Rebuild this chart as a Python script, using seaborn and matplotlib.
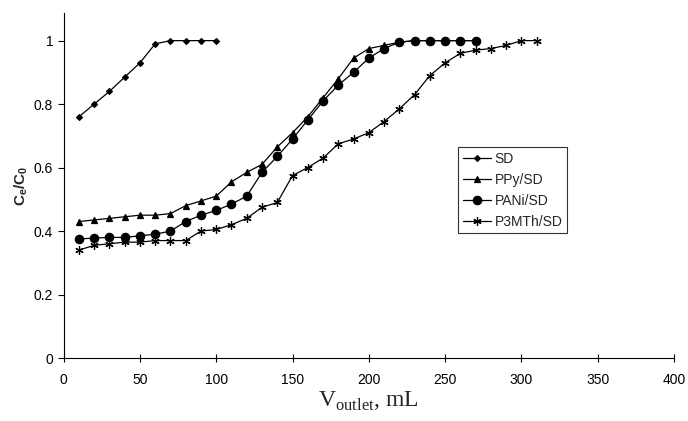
import pandas as pd
import matplotlib.pyplot as plt
import seaborn as sns
import numpy as np

# volumes (mL) and Ce/C0 values
vol_sd = list(range(10, 101, 10))
sd = [0.76, 0.80, 0.84, 0.885, 0.93, 0.99, 1.0, 1.0, 1.0, 1.0]

vol_ppy = list(range(10, 271, 10))
ppy = [0.43, 0.435, 0.44, 0.445, 0.45, 0.45, 0.455, 0.48, 0.495, 0.51,
       0.555, 0.585, 0.61, 0.665, 0.71, 0.76, 0.82, 0.88, 0.945, 0.975,
       0.985, 0.995, 1.0, 1.0, 1.0, 1.0, 1.0]

vol_pani = list(range(10, 271, 10))
pani = [0.375, 0.378, 0.38, 0.38, 0.385, 0.39, 0.40, 0.43, 0.45, 0.465,
        0.485, 0.51, 0.585, 0.635, 0.69, 0.75, 0.81, 0.86, 0.90, 0.945,
        0.975, 0.995, 1.0, 1.0, 1.0, 1.0, 1.0]

vol_p3mth = list(range(10, 311, 10))
p3mth = [0.34, 0.355, 0.36, 0.365, 0.365, 0.37, 0.37, 0.37, 0.40, 0.405,
         0.42, 0.44, 0.475, 0.49, 0.575, 0.60, 0.63, 0.675, 0.69, 0.71,
         0.745, 0.785, 0.83, 0.89, 0.93, 0.96, 0.97, 0.975, 0.985, 1.0, 1.0]

series = [('SD', vol_sd, sd), ('PPy/SD', vol_ppy, ppy),
          ('PANi/SD', vol_pani, pani), ('P3MTh/SD', vol_p3mth, p3mth)]
rows = []
for name, v, c in series:
    for a, b in zip(v, c):
        rows.append((name, a, b))
data = pd.DataFrame(rows, columns=['sample', 'V', 'C'])

sns.set_style('white')
plt.rcParams['font.family'] = ['Liberation Sans', 'DejaVu Sans']
plt.rcParams['mathtext.fontset'] = 'custom'
plt.rcParams['mathtext.rm'] = 'Liberation Serif'
plt.rcParams['mathtext.bf'] = 'Liberation Sans:bold'

fig = plt.figure(figsize=(6.88, 4.21), dpi=100)
ax = fig.add_axes([0.0925, 0.1496, 0.8872, 0.8195])

markers = {'SD': 'D', 'PPy/SD': '^', 'PANi/SD': 'o', 'P3MTh/SD': (6, 2, 0)}
sizes = {'SD': 3, 'PPy/SD': 5, 'PANi/SD': 6, 'P3MTh/SD': 6}
for name, v, c in series:
    sns.lineplot(data=data[data['sample'] == name], x='V', y='C', ax=ax,
                 color='black', lw=0.9, marker=markers[name],
                 markersize=sizes[name], markeredgecolor='black',
                 markeredgewidth=0.9, label=name)

ax.set_xlim(0, 400)
ax.set_ylim(0, 1.087)
ax.set_xticks(np.arange(0, 401, 50))
ax.set_yticks([0, 0.2, 0.4, 0.6, 0.8, 1.0])
ax.set_yticklabels(['0', '0.2', '0.4', '0.6', '0.8', '1'])
ax.tick_params(axis='both', labelsize=10, colors='black', length=4,
               width=0.8, left=True, bottom=True)
ax.tick_params(axis='x', direction='inout', length=6, pad=8)
for s in ['top', 'right']:
    ax.spines[s].set_visible(False)
for s in ['left', 'bottom']:
    ax.spines[s].set_color('black')
    ax.spines[s].set_linewidth(0.8)

ax.set_xlabel('V$_{\\mathrm{outlet}}$, mL', family='Liberation Serif',
              fontsize=17, labelpad=2)
ax.set_ylabel('$\\mathbf{C_e/C_0}$', fontsize=11, labelpad=3)

leg = ax.legend(loc='upper left', bbox_to_anchor=(0.646, 0.612),
                frameon=True, fancybox=False, fontsize=10,
                handlelength=2.0, borderpad=0.35, labelspacing=0.5,
                handletextpad=0.3, borderaxespad=0)
leg.get_frame().set_edgecolor('black')
leg.get_frame().set_linewidth(0.8)

fig.savefig('out.png', dpi=100)
